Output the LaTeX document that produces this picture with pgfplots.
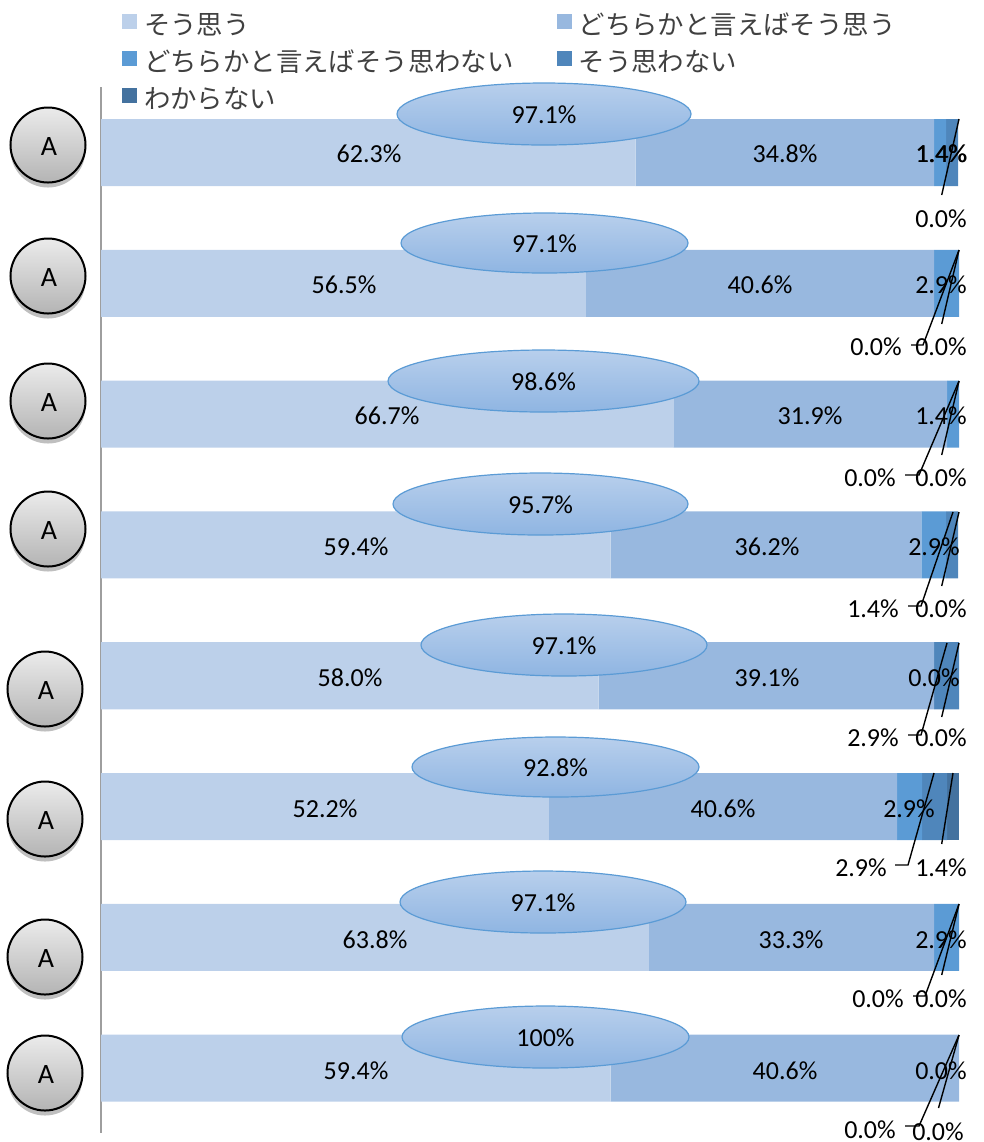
\documentclass[border=0pt]{standalone}
\usepackage{pgfplots}
\pgfplotsset{compat=1.18}
\usepackage{pgfplotstable}
\usepackage{fontspec}
\setmainfont{Carlito}
\newfontfamily\cjk{Noto Sans CJK JP}
\usetikzlibrary{shapes.geometric,shadows}
\definecolor{c1}{HTML}{BCD0EA}
\definecolor{c2}{HTML}{98B8DF}
\definecolor{c3}{HTML}{5B9BD5}
\definecolor{c4}{HTML}{4F86BB}
\definecolor{c5}{HTML}{44729F}
\definecolor{legtext}{HTML}{404040}
\definecolor{B1}{HTML}{B8CFEC}
\definecolor{B2}{HTML}{8FB5E2}
\definecolor{G1}{HTML}{EBEBEB}
\definecolor{G2}{HTML}{B4B4B4}
\pgfplotstableread{
row a b c d e
0 62.3 34.8 1.4 1.4 0.0
1 56.5 40.6 2.9 0.0 0.0
2 66.7 31.9 1.4 0.0 0.0
3 59.4 36.2 2.9 1.4 0.0
4 58.0 39.1 0.0 2.9 0.0
5 52.2 40.6 2.9 2.9 1.4
6 63.8 33.3 2.9 0.0 0.0
7 59.4 40.6 0.0 0.0 0.0
}\datatable
\newcommand{\lab}[3]{\node[font=\fontsize{26}{30}\selectfont,text=black,inner sep=0pt,yshift=-1pt] at (axis cs:#1,#2) {#3};}
\newcommand{\ovalnode}[5]{\node[ellipse,draw=c3,line width=1.2pt,top color=B1,bottom color=B2,minimum width=#3pt,minimum height=#4pt,inner sep=0pt] at (axis cs:#1,#2) {};
\node[font=\fontsize{26}{30}\selectfont,text=black,inner sep=0pt,yshift=-1pt] at (axis cs:#1,#2) {#5};}
\newcommand{\circA}[2]{\node[circle,draw=black,line width=2pt,top color=G1,bottom color=G2,minimum size=75pt,inner sep=0pt,drop shadow={shadow xshift=0pt,shadow yshift=-5pt,opacity=.25,fill=black}] at (axis cs:#1,#2) {};
\node[font=\fontsize{28}{30}\selectfont,text=black,inner sep=0pt,xshift=1pt,yshift=-1.5pt] at (axis cs:#1,#2) {A};}
\newcommand{\leader}[1]{\addplot[black,line width=1.4pt,no markers,forget plot] coordinates {#1};}
\newcommand{\legstrut}{\rule[-13.5pt]{0pt}{45pt}\hspace{5pt}}
\begin{document}
\begin{tikzpicture}[x=1pt,y=1pt]
\path[use as bounding box] (0,0) rectangle (983,-1142);
\begin{axis}[
  at={(101pt,-1133pt)},anchor=south west,
  width=858pt,height=1046pt,scale only axis,
  xbar stacked,bar width=67pt,
  xmin=0,xmax=100,ymin=-0.5008,ymax=7.496,y dir=reverse,
  axis lines*=left,
  x axis line style={draw=none},
  y axis line style={draw=black!38,line width=1.5pt,-},
  xtick=\empty,ytick=\empty,
  clip=false,
  legend columns=2,
  legend cell align=left,
  legend image code/.code={\fill[#1] (0pt,-9.5pt) rectangle (15pt,5.5pt);},
  legend style={draw=none,fill=none,at={(0.0245,1.082)},anchor=north west,
    font=\cjk\fontsize{26.4}{30}\selectfont,text=legtext,
    inner sep=0pt,outer sep=0pt,
    /tikz/every even column/.append style={column sep=41pt}},
]
\addplot[fill=c1,draw=none] table[x=a,y=row]{\datatable};
\addplot[fill=c2,draw=none] table[x=b,y=row]{\datatable};
\addplot[fill=c3,draw=none] table[x=c,y=row]{\datatable};
\addplot[fill=c4,draw=none] table[x=d,y=row]{\datatable};
\addplot[fill=c5,draw=none] table[x=e,y=row]{\datatable};
\addlegendentry{\legstrut そう思う}
\addlegendentry{\legstrut どちらかと言えばそう思う}
\addlegendentry{\legstrut どちらかと言えばそう思わない}
\addlegendentry{\legstrut そう思わない}
\addlegendentry{\legstrut わからない}
\end{axis}
\begin{axis}[
  at={(0pt,-1142pt)},anchor=south west,
  width=983pt,height=1142pt,scale only axis,
  xmin=0,xmax=983,ymin=0,ymax=1142,y dir=reverse,
  hide axis,clip=false,
]
% leader lines
\leader{(959,119) (941.7,195)}
\leader{(959,250) (941.7,324)}
\leader{(959,250) (923,345) (911,345)}
\leader{(959,381) (941.7,455)}
\leader{(959,381) (919,475) (905,475)}
\leader{(959,512) (941.7,586)}
\leader{(953,512) (921,606) (908,606)}
\leader{(959,643) (941.7,717)}
\leader{(947,643) (921,735) (908,735)}
\leader{(953,773) (941.7,844)}
\leader{(934,773) (908,865) (895,865)}
\leader{(959,904) (941.7,975)}
\leader{(959,904) (925,996) (913,996)}
\leader{(959,1035) (938.5,1108)}
\leader{(959,1035) (919,1126) (905,1126)}
% labels inside bars
\lab{369}{153}{62.3\%}\lab{785}{153}{34.8\%}\lab{941}{153}{1.4\%}\lab{941.7}{153}{1.4\%}
\lab{344}{284}{56.5\%}\lab{760}{284}{40.6\%}\lab{941}{284}{2.9\%}
\lab{387}{415}{66.7\%}\lab{810}{415}{31.9\%}\lab{941}{415}{1.4\%}
\lab{356}{546}{59.4\%}\lab{767}{546}{36.2\%}\lab{934}{546}{2.9\%}
\lab{350}{677}{58.0\%}\lab{767}{677}{39.1\%}\lab{934}{677}{0.0\%}
\lab{325}{808}{52.2\%}\lab{723}{808}{40.6\%}\lab{909}{808}{2.9\%}
\lab{375}{939}{63.8\%}\lab{791}{939}{33.3\%}\lab{941}{939}{2.9\%}
\lab{356}{1070}{59.4\%}\lab{785}{1070}{40.6\%}\lab{941}{1070}{0.0\%}
% labels below bars
\lab{941}{218}{0.0\%}
\lab{876}{346}{0.0\%}\lab{941}{346}{0.0\%}
\lab{870}{477}{0.0\%}\lab{941}{477}{0.0\%}
\lab{873}{608}{1.4\%}\lab{941}{608}{0.0\%}
\lab{873}{737}{2.9\%}\lab{941}{737}{0.0\%}
\lab{861}{867}{2.9\%}\lab{941}{867}{1.4\%}
\lab{878}{998}{0.0\%}\lab{941}{998}{0.0\%}
\lab{870}{1129}{0.0\%}\lab{938}{1131}{0.0\%}
% ellipses
\ovalnode{544}{114}{294}{62}{97.1\%}
\ovalnode{544.5}{243}{287}{60}{97.1\%}
\ovalnode{543.5}{381}{311}{62}{98.6\%}
\ovalnode{540.5}{504}{295}{62}{95.7\%}
\ovalnode{564}{645}{286}{62}{97.1\%}
\ovalnode{555.5}{767}{287}{60}{92.8\%}
\ovalnode{543}{902}{286}{62}{97.1\%}
\ovalnode{545.5}{1037}{287}{62}{100\%}
% circles
\circA{48}{145}\circA{48}{276}\circA{48}{401}\circA{48}{529}
\circA{45}{689}\circA{45}{819}\circA{45}{957}\circA{45}{1073}
\end{axis}
\end{tikzpicture}
\end{document}
